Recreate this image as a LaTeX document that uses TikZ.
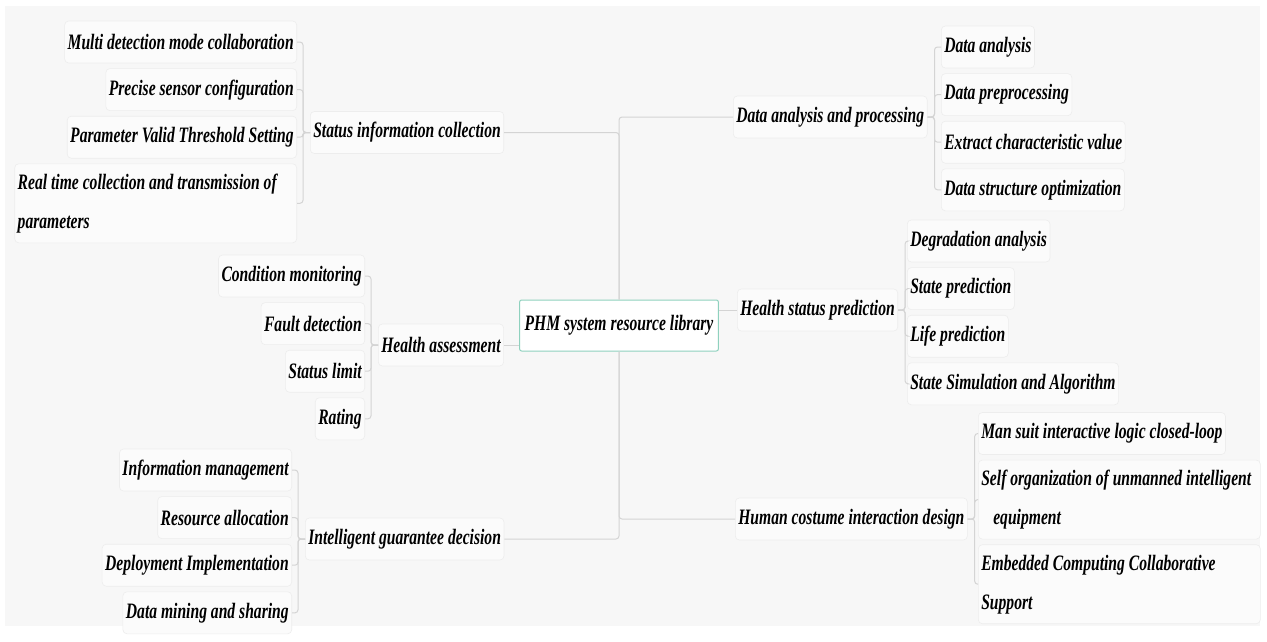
\documentclass[tikz,border=0pt]{standalone}
\usepackage{fontspec}
\setmainfont{Liberation Serif}[FakeStretch=0.71]
\usepackage{xcolor}
\definecolor{Paper}{HTML}{F7F7F7}
\definecolor{Card}{HTML}{FBFBFB}
\definecolor{Rim}{HTML}{EDEDED}
\definecolor{Wire}{HTML}{D4D4D4}
\definecolor{Mint}{HTML}{8FD1BE}
\usepackage{tikz}
\usetikzlibrary{calc, positioning}
\tikzset{
	topic/.style={
		draw=Rim,
		fill=Card,
		line width=.6pt,
		rounded corners=4pt,
		inner xsep=3pt,
		inner ysep=0pt,
		minimum height=42pt
	},
	twoline/.style={
		topic,
		minimum height=79pt,
		text width=276pt,
		align=flush left
	},
	hub/.style={
		draw=Mint,
		fill=white,
		line width=1pt,
		rounded corners=2pt,
		inner xsep=5pt,
		minimum height=51pt
	},
	wire/.style={
		draw=Wire,
		line width=1pt,
		rounded corners=3pt
	}
}

\begin{document}
\begin{tikzpicture}[x=1pt, y=-1pt, font=\fontsize{22}{39}\selectfont\bfseries\itshape]
        \fill[white] (0,0) rectangle (1267,641);
        \useasboundingbox (0,0) rectangle (1267,641);
        \fill[Paper] (5,6) rectangle (1260,626);

        \node[hub] (lib) at (619,325.5) {PHM system resource library};

        \node[topic, anchor=west] (sic) at (310,132.5) {Status information collection};
        \node[topic, anchor=west] (ha) at (378,345) {Health assessment};
        \node[topic, anchor=west] (igd) at (305,539) {Intelligent guarantee decision};
        \node[topic, anchor=west] (dap) at (733,117) {Data analysis and processing};
        \node[topic, anchor=west] (hsp) at (737,310) {Health status prediction};
        \node[topic, anchor=west] (hcid) at (735,519) {Human costume interaction design};

        \node[topic, anchor=east] (sic1) at (297,42) {Multi detection mode collaboration};
        \node[topic, below=5pt of sic1.south east, anchor=north east] (sic2) {Precise sensor configuration};
        \node[topic, below=5pt of sic2.south east, anchor=north east] (sic3) {Parameter Valid Threshold Setting};
        \node[twoline, below=5pt of sic3.south east, anchor=north east] (sic4) {\mbox{Real time collection and transmission of}\\parameters};

        \node[topic, anchor=east] (ha1) at (365,276) {Condition monitoring};
        \node[topic, below=5pt of ha1.south east, anchor=north east] (ha2) {Fault detection};
        \node[topic, below=5pt of ha2.south east, anchor=north east] (ha3) {Status limit};
        \node[topic, below=5pt of ha3.south east, anchor=north east] (ha4) {Rating};

        \node[topic, anchor=east] (igd1) at (292,470) {Information management};
        \node[topic, below=5pt of igd1.south east, anchor=north east] (igd2) {Resource allocation};
        \node[topic, below=5pt of igd2.south east, anchor=north east] (igd3) {Deployment Implementation};
        \node[topic, below=5pt of igd3.south east, anchor=north east] (igd4) {Data mining and sharing};

        \node[topic, anchor=west] (dap1) at (941,47) {Data analysis};
        \node[topic, below=5pt of dap1.south west, anchor=north west] (dap2) {Data preprocessing};
        \node[topic, below=5pt of dap2.south west, anchor=north west] (dap3) {Extract characteristic value};
        \node[topic, below=5pt of dap3.south west, anchor=north west] (dap4) {Data structure optimization};

        \node[topic, anchor=west] (hsp1) at (907,241) {Degradation analysis};
        \node[topic, below=5pt of hsp1.south west, anchor=north west] (hsp2) {State prediction};
        \node[topic, below=5pt of hsp2.south west, anchor=north west] (hsp3) {Life prediction};
        \node[topic, below=5pt of hsp3.south west, anchor=north west] (hsp4) {State Simulation and Algorithm};

        \node[topic, anchor=west] (hcid1) at (978,433.5) {Man suit interactive logic closed-loop};
        \node[twoline, below=5pt of hcid1.south west, anchor=north west] (hcid2) {\mbox{Self organization of unmanned intelligent}\\\hspace*{12pt}equipment};
        \node[twoline, below=5pt of hcid2.south west, anchor=north west] (hcid3) {\mbox{Embedded Computing Collaborative}\\Support};

        \draw[wire] (lib.north) |- (sic.east);
        \draw[wire] (lib.north) |- (dap.west);
        \draw[wire] (lib.south) |- (igd.east);
        \draw[wire] (lib.south) |- (hcid.west);
        \draw[wire] (ha.east) -- (ha.east -| lib.west);
        \draw[wire] (hsp.west) -- (hsp.west -| lib.east);

        \foreach \i in {1,...,4} {
            \draw[wire] (sic.west) -- ++(-7,0) |- (sic\i.east);
            \draw[wire] (ha.west) -- ++(-7,0) |- (ha\i.east);
            \draw[wire] (igd.west) -- ++(-7,0) |- (igd\i.east);
            \draw[wire] (dap.east) -- ++(7,0) |- (dap\i.west);
            \draw[wire] (hsp.east) -- ++(7,0) |- (hsp\i.west);
        }
        \foreach \i in {1,2,3}
            \draw[wire] (hcid.east) -- ++(7,0) |- (hcid\i.west);
\end{tikzpicture}
\end{document}
